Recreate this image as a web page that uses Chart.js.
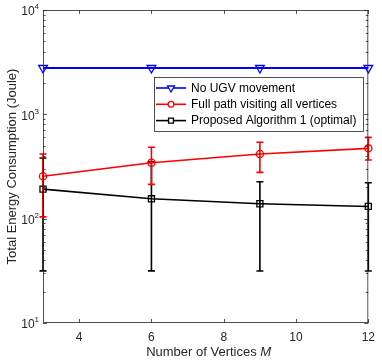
<!DOCTYPE html>
<html lang="en">
<head>
  <meta charset="UTF-8">
  <title>Total Energy Consumption</title>
  <script src="https://cdn.jsdelivr.net/npm/chart.js"></script>
  <style>
    body {
      margin: 0;
      background-color: white;
    }
    #wrap {
      width: 382px;
      height: 362px;
    }
  </style>
</head>
<body>
  <div id="wrap">
    <canvas id="energyChart" width="382" height="362"></canvas>
  </div>
  <script>
    // Data
    const vertexCounts = [3, 6, 9, 12];
    const seriesNames = ['No UGV movement', 'Full path visiting all vertices', 'Proposed Algorithm 1 (optimal)'];
    const noMovement = [2780, 2780, 2780, 2780];
    const fullPath = [255, 344, 416, 472];
    const fullPathLow = [104, 213, 278, 365];
    const fullPathHigh = [416, 483, 540, 602];
    const proposed = [192, 155, 139, 131];
    const proposedLow = [31.6, 31.6, 31.5, 31.5];
    const proposedHigh = [381, 350, 226, 221];
    const xTicks = [4, 6, 8, 10, 12];
    const yTicks = [10, 100, 1000, 10000];
    const yTickExponents = ['1', '2', '3', '4'];
    const xTitle = 'Number of Vertices ';
    const xTitleItalic = 'M';
    const yTitle = 'Total Energy Consumption (Joule)';

    const FONT = '"Liberation Sans", Arial, Helvetica, sans-serif';
    const AXIS_COLOR = '#262626';

    const colors = ['#0000ff', '#ff0000', '#000000'];
    const pointStyles = ['triangle', 'circle', 'rect'];
    const pointRadius = [5, 3.6, 4.3];
    const pointRotation = [180, 0, 0];

    function toPoints(ys) {
      return vertexCounts.map((x, i) => ({ x: x, y: ys[i] }));
    }

    const errorBars = [
      null,
      { low: fullPathLow, high: fullPathHigh },
      { low: proposedLow, high: proposedHigh }
    ];

    // error bars, drawn under the markers
    const errorBarPlugin = {
      id: 'errorBars',
      beforeDatasetsDraw(chart) {
        const ctx = chart.ctx;
        const xs = chart.scales.x;
        const ys = chart.scales.y;
        ctx.save();
        for (let d = errorBars.length - 1; d >= 0; d--) {
          const eb = errorBars[d];
          if (!eb) continue;
          ctx.strokeStyle = colors[d];
          ctx.lineWidth = 1.6;
          vertexCounts.forEach((xv, i) => {
            const px = xs.getPixelForValue(xv);
            const pLow = ys.getPixelForValue(eb.low[i]);
            const pHigh = ys.getPixelForValue(eb.high[i]);
            ctx.beginPath();
            ctx.moveTo(px, pLow);
            ctx.lineTo(px, pHigh);
            ctx.moveTo(px - 3.5, pLow);
            ctx.lineTo(px + 3.5, pLow);
            ctx.moveTo(px - 3.5, pHigh);
            ctx.lineTo(px + 3.5, pHigh);
            ctx.stroke();
          });
        }
        ctx.restore();
      }
    };

    // MATLAB style box, inward ticks, labels and legend
    const matlabAxesPlugin = {
      id: 'matlabAxes',
      afterDraw(chart) {
        const ctx = chart.ctx;
        const area = chart.chartArea;
        const xs = chart.scales.x;
        const ys = chart.scales.y;
        ctx.save();

        // box
        ctx.strokeStyle = AXIS_COLOR;
        ctx.lineWidth = 0.8;
        ctx.strokeRect(area.left + 0.5, area.top + 0.5, area.right - area.left - 1, area.bottom - area.top - 1);

        // x ticks
        ctx.beginPath();
        xTicks.forEach(v => {
          const px = Math.round(xs.getPixelForValue(v)) + 0.5;
          ctx.moveTo(px, area.bottom);
          ctx.lineTo(px, area.bottom - 4);
          ctx.moveTo(px, area.top);
          ctx.lineTo(px, area.top + 4);
        });
        // y ticks, major and minor
        for (let k = 0; k < yTicks.length; k++) {
          for (let m = 1; m <= 9; m++) {
            const v = yTicks[k] * m;
            if (v > yTicks[yTicks.length - 1]) break;
            const py = Math.round(ys.getPixelForValue(v)) + 0.5;
            const len = m === 1 ? 4 : 2.5;
            ctx.moveTo(area.left, py);
            ctx.lineTo(area.left + len, py);
            ctx.moveTo(area.right, py);
            ctx.lineTo(area.right - len, py);
          }
        }
        ctx.stroke();

        // y tick labels with superscripts
        ctx.fillStyle = AXIS_COLOR;
        ctx.textBaseline = 'middle';
        yTicks.forEach((v, i) => {
          const py = ys.getPixelForValue(v);
          ctx.font = '8px ' + FONT;
          const supW = ctx.measureText(yTickExponents[i]).width;
          const right = area.left - 4;
          ctx.textAlign = 'left';
          ctx.fillText(yTickExponents[i], right - supW, py - 3);
          ctx.font = '12px ' + FONT;
          ctx.textAlign = 'right';
          ctx.fillText('10', right - supW, py + 2);
        });

        // x title with italic M
        ctx.font = '13px ' + FONT;
        const w1 = ctx.measureText(xTitle).width;
        ctx.font = 'italic 13px ' + FONT;
        const w2 = ctx.measureText(xTitleItalic).width;
        const cx = (area.left + area.right) / 2 + 3;
        ctx.textAlign = 'left';
        ctx.font = '13px ' + FONT;
        ctx.fillText(xTitle, cx - (w1 + w2) / 2, 352);
        ctx.font = 'italic 13px ' + FONT;
        ctx.fillText(xTitleItalic, cx - (w1 + w2) / 2 + w1, 352);

        // y title
        ctx.save();
        ctx.translate(12, (area.top + area.bottom) / 2);
        ctx.rotate(-Math.PI / 2);
        ctx.textAlign = 'center';
        ctx.font = '13px ' + FONT;
        ctx.fillText(yTitle, 0, 0);
        ctx.restore();

        // legend box
        const lx = 154, ly = 77, lw = 209, lh = 54;
        ctx.fillStyle = 'white';
        ctx.fillRect(lx, ly, lw, lh);
        ctx.strokeStyle = AXIS_COLOR;
        ctx.lineWidth = 0.8;
        ctx.strokeRect(lx + 0.5, ly + 0.5, lw, lh);
        seriesNames.forEach((name, i) => {
          const rowY = 88 + i * 16.3;
          ctx.strokeStyle = colors[i];
          ctx.lineWidth = 1.6;
          ctx.beginPath();
          ctx.moveTo(156, rowY);
          ctx.lineTo(186, rowY);
          ctx.stroke();
          ctx.lineWidth = 1.3;
          ctx.fillStyle = 'white';
          Chart.helpers.drawPoint(ctx, {
            pointStyle: pointStyles[i],
            radius: pointRadius[i] * 0.8,
            rotation: pointRotation[i],
            borderWidth: 1.3
          }, 171, rowY);
          ctx.fillStyle = '#000';
          ctx.font = '12px ' + FONT;
          ctx.textAlign = 'left';
          ctx.textBaseline = 'middle';
          ctx.fillText(name, 191, rowY + 0.5);
        });

        ctx.restore();
      }
    };

    const datasets = [noMovement, fullPath, proposed].map((ys, i) => ({
      label: seriesNames[i],
      data: toPoints(ys),
      borderColor: colors[i],
      backgroundColor: 'rgba(0,0,0,0)',
      borderWidth: i === 0 ? 2 : 1.6,
      pointStyle: pointStyles[i],
      pointRadius: pointRadius[i],
      pointRotation: pointRotation[i],
      pointBorderWidth: 1.3,
      pointBorderColor: colors[i],
      pointBackgroundColor: 'rgba(0,0,0,0)',
      fill: false,
      tension: 0,
      clip: false
    }));

    new Chart(document.getElementById('energyChart'), {
      type: 'line',
      data: { datasets: datasets },
      options: {
        responsive: false,
        animation: false,
        layout: { padding: { top: 10, right: 8, left: 0, bottom: 0 } },
        plugins: {
          legend: { display: false },
          tooltip: { enabled: false }
        },
        scales: {
          x: {
            type: 'linear',
            min: 3,
            max: 12,
            afterBuildTicks: axis => { axis.ticks = xTicks.map(v => ({ value: v })); },
            afterFit: axis => { axis.height = 39; },
            grid: { display: false, drawTicks: false },
            border: { display: false },
            ticks: {
              padding: 7,
              color: AXIS_COLOR,
              font: { family: FONT, size: 12 },
              maxRotation: 0
            }
          },
          y: {
            type: 'logarithmic',
            min: 10,
            max: 10000,
            afterBuildTicks: axis => { axis.ticks = yTicks.map(v => ({ value: v })); },
            afterFit: axis => { axis.width = 43; },
            grid: { display: false, drawTicks: false },
            border: { display: false },
            ticks: { display: false }
          }
        }
      },
      plugins: [errorBarPlugin, matlabAxesPlugin]
    });
  </script>
</body>
</html>
